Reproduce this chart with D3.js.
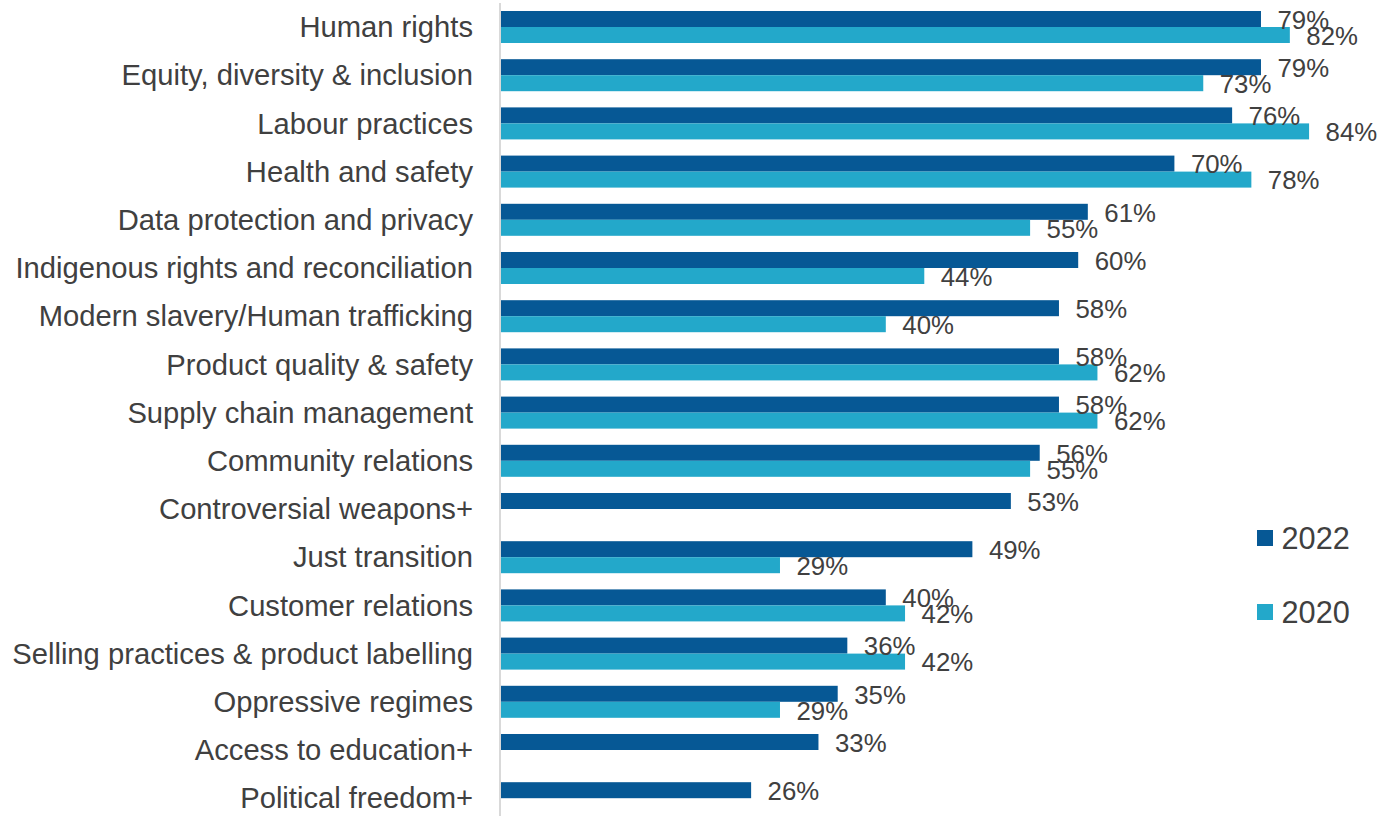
<!DOCTYPE html>
<html>
<head>
<meta charset="utf-8">
<script src="https://cdn.jsdelivr.net/npm/d3@7"></script>
<style>
  html, body { margin: 0; padding: 0; background: #fff; }
  svg { display: block; }
  text { font-family: "Liberation Sans", Arial, sans-serif; fill: #404040; }
</style>
</head>
<body>
<svg id="chart" width="1381" height="816"></svg>
<script>
// Topics, top to bottom
const categories = [
  "Human rights",
  "Equity, diversity & inclusion",
  "Labour practices",
  "Health and safety",
  "Data protection and privacy",
  "Indigenous rights and reconciliation",
  "Modern slavery/Human trafficking",
  "Product quality & safety",
  "Supply chain management",
  "Community relations",
  "Controversial weapons+",
  "Just transition",
  "Customer relations",
  "Selling practices & product labelling",
  "Oppressive regimes",
  "Access to education+",
  "Political freedom+"
];

// Share of respondents (%); null where the topic was not asked
const values2022 = [79, 79, 76, 70, 61, 60, 58, 58, 58, 56, 53, 49, 40, 36, 35, 33, 26];
const values2020 = [82, 73, 84, 78, 55, 44, 40, 62, 62, 55, null, 29, 42, 42, 29, null, null];

const seriesNames = ["2022", "2020"];
const seriesColors = ["#065895", "#23a8ca"];

const svg = d3.select("#chart");

const x = d3.scaleLinear().domain([0, 100]).range([501, 1463]);

const y = d3.scaleBand()
  .domain(categories)
  .range([2.9, 2.9 + 48.2 * categories.length])
  .paddingInner(0.336)
  .paddingOuter(0.168);

const ySub = d3.scaleBand()
  .domain(seriesNames)
  .range([0, y.bandwidth()]);

const rows = categories.map((c, i) => ({
  category: c,
  series: [
    { name: "2022", value: values2022[i] },
    { name: "2020", value: values2020[i] }
  ].filter(d => d.value !== null)
}));

const color = d3.scaleOrdinal().domain(seriesNames).range(seriesColors);

// Category axis line
svg.append("line")
  .attr("x1", 500).attr("x2", 500)
  .attr("y1", 3).attr("y2", 816)
  .attr("stroke", "#d9d9d9")
  .attr("stroke-width", 2);

// Category labels
const yAxis = d3.axisLeft(y).tickSize(0).tickPadding(27);
const axisG = svg.append("g")
  .attr("transform", "translate(500,0)")
  .call(yAxis);
axisG.select(".domain").remove();
axisG.selectAll("text")
  .attr("font-size", "29.2px")
  .attr("fill", "#404040")
  .attr("dy", "0.35em")
  .style("font-family", "'Liberation Sans', Arial, sans-serif");

// Bars and value labels
const groups = svg.append("g").selectAll("g")
  .data(rows)
  .join("g")
  .attr("transform", d => `translate(0,${y(d.category)})`);

groups.selectAll("rect")
  .data(d => d.series)
  .join("rect")
  .attr("x", x(0))
  .attr("y", d => ySub(d.name))
  .attr("width", d => x(d.value) - x(0))
  .attr("height", ySub.bandwidth())
  .attr("fill", d => color(d.name));

groups.selectAll("text.val")
  .data(d => d.series)
  .join("text")
  .attr("class", "val")
  .attr("x", d => x(d.value) + 16.5)
  .attr("y", d => ySub(d.name) + ySub.bandwidth() / 2)
  .attr("dy", "0.38em")
  .attr("font-size", "25.8px")
  .text(d => d.value + "%");

// Legend
const legend = svg.append("g").selectAll("g")
  .data(seriesNames)
  .join("g")
  .attr("transform", (d, i) => `translate(1257,${538 + i * 74})`);

legend.append("rect")
  .attr("x", 0).attr("y", -8)
  .attr("width", 16).attr("height", 16)
  .attr("fill", d => color(d));

legend.append("text")
  .attr("x", 24.5)
  .attr("y", 0)
  .attr("dy", "0.36em")
  .attr("font-size", "30.7px")
  .text(d => d);
</script>
</body>
</html>
